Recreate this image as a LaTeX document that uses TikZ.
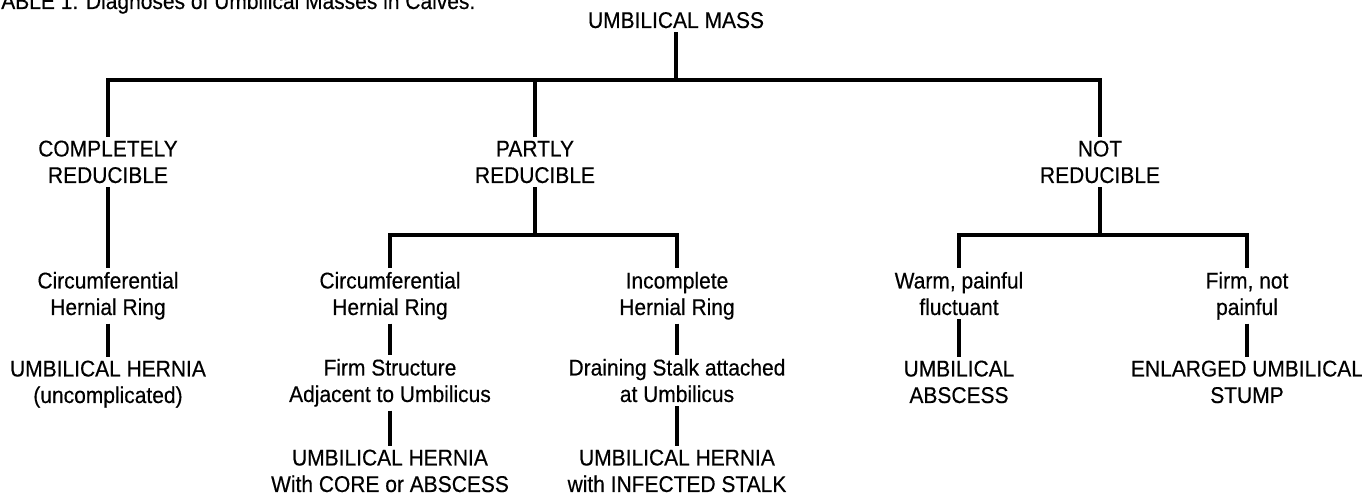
\documentclass[tikz,border=0pt]{standalone}
\usepackage{fontspec}
\setmainfont{Liberation Sans}[FakeStretch=0.92,FakeBold=0.4]
\begin{document}
\begin{tikzpicture}[x=.5pt,y=-.5pt,
    every node/.style={font=\fontsize{11.4}{13.25}\selectfont,align=center,anchor=base,inner sep=2pt,outer sep=0pt},
    branch/.style={line width=1.6pt}]
        \useasboundingbox (0,0) rectangle (1362,496);
        \node (title) [anchor=base west] at (-14,9) {TABLE 1: Diagnoses of Umbilical Masses in Calves.};
        \node (mass) at (676,28) {UMBILICAL MASS};
        
        \node (comp) at (108,183) {COMPLETELY\\REDUCIBLE};
        \node (partly) at (535,183) {PARTLY\\REDUCIBLE};
        \node (notr) at (1100,183) {NOT\\REDUCIBLE};
        
        \node (circa) at (108,315) {Circumferential\\Hernial Ring};
        \node (herna) at (108,403) {UMBILICAL HERNIA\\(uncomplicated)};
        
        \node (circb) at (390,315) {Circumferential\\Hernial Ring};
        \node (firm) at (390,402) {Firm Structure\\Adjacent to Umbilicus};
        \node (hernb) at (390,492) {UMBILICAL HERNIA\\With CORE or ABSCESS};
        
        \node (incompl) at (677,315) {Incomplete\\Hernial Ring};
        \node (drain) at (677,402) {Draining Stalk attached\\at Umbilicus};
        \node (hernc) at (677,492) {UMBILICAL HERNIA\\with INFECTED STALK};
        
        \node (warm) at (959,315) {Warm, painful\\fluctuant};
        \node (absc) at (959,403) {UMBILICAL\\ABSCESS};
        \node (firmnp) at (1247,315) {Firm, not\\painful};
        \node (stump) at (1247,403) {ENLARGED UMBILICAL\\STUMP};
        
        % splits
        \coordinate (split1) at (676,80);
        \coordinate (split2) at (535,235);
        \coordinate (split3) at (1100,235);
        \draw[branch] (mass.south) -- (split1);
        \draw[branch] (comp.north) |- (split1) -| (notr.north);
        \draw[branch] (partly.north) -- (partly.north |- split1);
        \draw[branch] (partly.south) -- (split2);
        \draw[branch] (circb.north) |- (split2) -| (incompl.north);
        \draw[branch] (notr.south) -- (split3);
        \draw[branch] (warm.north) |- (split3) -| (firmnp.north);
        
        \foreach \a/\b in {comp/circa, circa/herna, circb/firm, firm/hernb, incompl/drain, drain/hernc, warm/absc, firmnp/stump}
            \draw[branch] (\a.south) -- (\b.north);
\end{tikzpicture}
\end{document}
